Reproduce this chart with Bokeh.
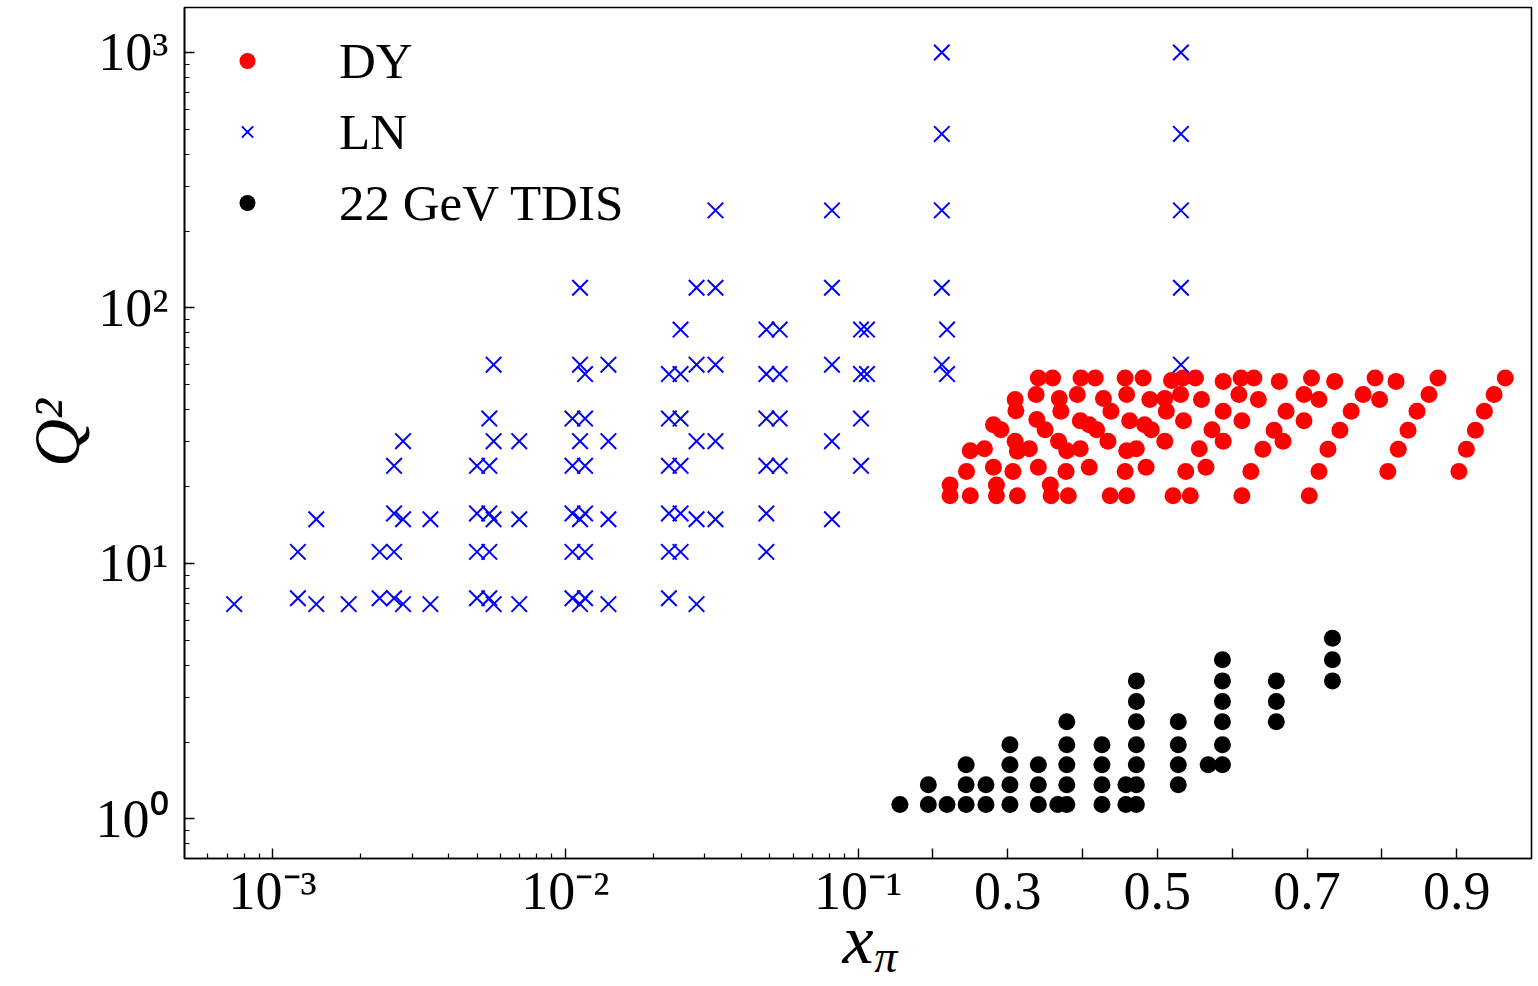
import math
from bokeh.plotting import figure
from bokeh.models import (Range1d, FixedTicker, CustomJSTickFormatter, CustomJSTransform,
                          LinearAxis, ColumnDataSource)
from bokeh.transform import transform
from bokeh.embed import file_html
from bokeh.resources import INLINE

# ---------------- data ----------------
dy_x = [0.341, 0.360, 0.398, 0.417, 0.457, 0.481, 0.519, 0.534, 0.551, 0.588,
        0.612, 0.629, 0.663, 0.706, 0.737, 0.791, 0.819, 0.875, 0.965,
        0.310, 0.338, 0.369, 0.393, 0.428, 0.459, 0.490, 0.510, 0.531, 0.559,
        0.609, 0.635, 0.696, 0.716, 0.775, 0.797, 0.863, 0.950,
        0.311, 0.371, 0.438, 0.512, 0.588, 0.672, 0.759, 0.847, 0.937,
        0.339, 0.397, 0.463, 0.535, 0.613, 0.696,
        0.281, 0.291, 0.350, 0.409, 0.419, 0.483, 0.492, 0.573, 0.656, 0.744, 0.835, 0.925,
        0.310, 0.368, 0.434, 0.510, 0.588, 0.668,
        0.250, 0.269, 0.313, 0.329, 0.379, 0.397, 0.459, 0.472, 0.556, 0.641, 0.728, 0.822, 0.913,
        0.245, 0.281, 0.307, 0.341, 0.378, 0.409, 0.457, 0.485, 0.538, 0.565,
        0.625, 0.716, 0.808, 0.903,
        0.223, 0.285, 0.357,
        0.223, 0.250, 0.285, 0.313, 0.358, 0.381, 0.437, 0.459, 0.521, 0.544, 0.613, 0.703]
dy_q2 = [53.2, 53.2, 53.2, 53.2, 53.2, 53.2, 52.0, 53.2, 53.2, 51.6,
         53.2, 53.2, 51.6, 53.2, 51.6, 53.2, 51.6, 53.2, 53.2,
         43.8, 45.8, 44.2, 45.8, 44.2, 45.8, 43.8, 44.2, 45.8, 43.8,
         45.8, 43.8, 45.8, 43.8, 45.8, 43.8, 45.8, 45.8,
         39.6, 39.4, 39.4, 39.4, 39.4, 39.4, 39.4, 39.4, 39.4,
         36.6, 36.2, 36.2, 36.2, 36.2, 36.2,
         34.9, 33.4, 33.4, 34.9, 33.4, 34.9, 33.4, 33.4, 33.2, 33.2, 33.2, 33.2,
         30.1, 30.1, 30.1, 30.1, 30.1, 30.1,
         27.6, 28.1, 27.5, 28.1, 27.6, 28.1, 27.6, 28.1, 28.1, 28.0, 28.0, 28.0, 28.0,
         22.9, 23.8, 22.9, 23.8, 22.9, 23.8, 22.9, 23.8, 22.9, 23.8,
         22.9, 22.9, 22.9, 22.9,
         20.3, 20.3, 20.3,
         18.4, 18.4, 18.4, 18.4, 18.4, 18.4, 18.4, 18.4, 18.4, 18.4, 18.4, 18.4]

ln_x = [7.39e-4,
        1.22e-3, 1.22e-3,
        1.41e-3, 1.41e-3,
        1.82e-3,
        2.32e-3, 2.32e-3,
        2.60e-3, 2.60e-3, 2.60e-3, 2.60e-3,
        2.79e-3, 2.79e-3, 2.79e-3,
        3.46e-3, 3.46e-3,
        4.99e-3, 4.99e-3, 4.99e-3, 4.99e-3,
        5.50e-3, 5.50e-3, 5.50e-3, 5.50e-3, 5.50e-3,
        5.69e-3, 5.69e-3, 5.69e-3, 5.69e-3,
        6.96e-3, 6.96e-3, 6.96e-3,
        1.058e-2, 1.058e-2, 1.058e-2, 1.058e-2, 1.058e-2,
        1.123e-2, 1.123e-2, 1.123e-2, 1.123e-2, 1.123e-2,
        1.168e-2, 1.168e-2, 1.168e-2, 1.168e-2, 1.168e-2, 1.168e-2,
        1.404e-2, 1.404e-2, 1.404e-2, 1.404e-2,
        2.259e-2, 2.259e-2, 2.259e-2, 2.259e-2, 2.259e-2, 2.259e-2,
        2.476e-2, 2.476e-2, 2.476e-2, 2.476e-2, 2.476e-2, 2.476e-2,
        2.808e-2, 2.808e-2, 2.808e-2, 2.808e-2, 2.808e-2,
        3.259e-2, 3.259e-2, 3.259e-2, 3.259e-2, 3.259e-2,
        4.864e-2, 4.864e-2, 4.864e-2, 4.864e-2, 4.864e-2, 4.864e-2,
        5.399e-2, 5.399e-2, 5.399e-2, 5.399e-2,
        8.147e-2, 8.147e-2, 8.147e-2, 8.147e-2, 8.147e-2,
        0.104, 0.104, 0.104, 0.104,
        0.112, 0.112,
        0.212, 0.212, 0.212, 0.212, 0.212,
        0.219, 0.219,
        0.5315, 0.5315, 0.5315, 0.5315, 0.5315]
ln_q2 = [6.93,
         11.1, 7.31,
         14.9, 6.93,
         6.93,
         11.1, 7.31,
         24.1, 15.7, 11.1, 7.31,
         30.1, 14.9, 6.93,
         14.9, 6.93,
         24.1, 15.7, 11.1, 7.31,
         36.9, 24.1, 15.7, 11.1, 7.31,
         60.0, 30.1, 14.9, 6.93,
         30.1, 14.9, 6.93,
         36.9, 24.1, 15.7, 11.1, 7.31,
         120.0, 60.0, 30.1, 14.9, 6.93,
         55.1, 36.9, 24.1, 15.7, 11.1, 7.31,
         60.0, 30.1, 14.9, 6.93,
         55.1, 36.9, 24.1, 15.7, 11.1, 7.31,
         82.3, 55.1, 36.9, 24.1, 15.7, 11.1,
         120.0, 60.0, 30.1, 14.9, 6.93,
         241.0, 120.0, 60.0, 30.1, 14.9,
         82.3, 55.1, 36.9, 24.1, 15.7, 11.1,
         82.3, 55.1, 36.9, 24.1,
         241.0, 120.0, 60.0, 30.1, 14.9,
         82.3, 55.1, 36.9, 24.1,
         82.3, 55.1,
         1000.0, 480.0, 241.0, 120.0, 60.0,
         82.3, 55.1,
         1000.0, 480.0, 241.0, 120.0, 60.0]

tdis_x = [0.156,
          0.194, 0.194,
          0.219,
          0.2445, 0.2445, 0.2445,
          0.271, 0.271,
          0.303, 0.303, 0.303, 0.303,
          0.341, 0.341, 0.341,
          0.367,
          0.379, 0.379, 0.379, 0.379, 0.379,
          0.426, 0.426, 0.426, 0.426,
          0.458, 0.458,
          0.472, 0.472, 0.472, 0.472, 0.472, 0.472, 0.472,
          0.528, 0.528, 0.528, 0.528,
          0.568,
          0.587, 0.587, 0.587, 0.587, 0.587, 0.587,
          0.659, 0.659, 0.659,
          0.734, 0.734, 0.734]
tdis_q2 = [1.14,
           1.14, 1.36,
           1.14,
           1.14, 1.36, 1.63,
           1.14, 1.36,
           1.14, 1.36, 1.63, 1.95,
           1.14, 1.36, 1.63,
           1.14,
           1.14, 1.36, 1.63, 1.95, 2.40,
           1.14, 1.36, 1.63, 1.95,
           1.14, 1.36,
           1.14, 1.36, 1.63, 1.95, 2.40, 2.88, 3.47,
           1.36, 1.63, 1.95, 2.40,
           1.63,
           1.63, 1.95, 2.40, 2.88, 3.47, 4.20,
           2.40, 2.88, 3.47,
           3.47, 4.20, 5.10]

series_names = ["DY", "LN", "22 GeV TDIS"]

x_major_vals = [1e-3, 1e-2, 0.1, 0.2, 0.3, 0.4, 0.5, 0.6, 0.7, 0.8, 0.9]
x_major_labels = ["10\u207b\u00b3", "10\u207b\u00b2", "10\u207b\u00b9", "", "0.3", "", "0.5", "", "0.7", "", "0.9"]
x_minor_vals = [6e-4, 7e-4, 8e-4, 9e-4,
                2e-3, 3e-3, 4e-3, 5e-3, 6e-3, 7e-3, 8e-3, 9e-3,
                2e-2, 3e-2, 4e-2, 5e-2, 6e-2, 7e-2, 8e-2, 9e-2]
y_major_vals = [1, 10, 100, 1000]
y_major_labels = ["10\u2070", "10\u00b9", "10\u00b2", "10\u00b3"]
y_minor_vals = [0.8, 0.9, 2, 3, 4, 5, 6, 7, 8, 9, 20, 30, 40, 50, 60, 70, 80, 90,
                200, 300, 400, 500, 600, 700, 800, 900]

x_title_main = "x"          # x-axis title: x with subscript pi
x_title_sub = "\u03c0"
x_title_sub_at = 0.137      # where the subscript sits along the x axis
y_title = "Q\u00b2"

X_MIN, X_BREAK, X_MAX = 5e-4, 0.1, 1.0   # log below the break, linear above
Y_MIN, Y_MAX = 0.7, 1500


def hybrid(v):
    if v <= X_BREAK:
        return (math.log10(v) - math.log10(X_MIN)) / (math.log10(X_BREAK) - math.log10(X_MIN))
    return 1.0 + (v - X_BREAK) / (X_MAX - X_BREAK)


xt = CustomJSTransform(
    args=dict(lmin=math.log10(X_MIN), lbrk=math.log10(X_BREAK), brk=X_BREAK, xmax=X_MAX),
    func="""
        return x <= brk ? (Math.log10(x) - lmin) / (lbrk - lmin) : 1 + (x - brk) / (xmax - brk);
    """,
    v_func="""
        const out = new Float64Array(xs.length);
        for (let i = 0; i < xs.length; i++) {
            const x = xs[i];
            out[i] = x <= brk ? (Math.log10(x) - lmin) / (lbrk - lmin) : 1 + (x - brk) / (xmax - brk);
        }
        return out;
    """)

FONT = "Liberation Serif"

p = figure(width=1538, height=986, output_backend="svg", toolbar_location=None,
           x_range=Range1d(hybrid(X_MIN), hybrid(X_MAX)), y_range=Range1d(Y_MIN, Y_MAX),
           y_axis_type="log",
           min_border_left=184, min_border_right=7, min_border_top=7, min_border_bottom=128)
p.xgrid.visible = False
p.ygrid.visible = False
p.background_fill_color = "white"
p.border_fill_color = "white"
p.outline_line_color = "black"
p.outline_line_width = 1.6
p.outline_line_alpha = 1.0

src_dy = ColumnDataSource(dict(x=dy_x, q2=dy_q2))
src_ln = ColumnDataSource(dict(x=ln_x, q2=ln_q2))
src_td = ColumnDataSource(dict(x=tdis_x, q2=tdis_q2))

p.scatter(x=transform("x", xt), y="q2", source=src_dy, marker="circle", size=17,
          fill_color="#ff0000", line_color=None, legend_label=series_names[0])
p.scatter(x=transform("x", xt), y="q2", source=src_ln, marker="x", size=22,
          line_color="#0000ff", line_width=2, legend_label=series_names[1])
p.scatter(x=transform("x", xt), y="q2", source=src_td, marker="circle", size=17,
          fill_color="black", line_color=None, legend_label=series_names[2])

fmt_code = """
for (let i = 0; i < pos.length; i++) {
    if (Math.abs(tick - pos[i]) < 1e-6 * Math.max(1, Math.abs(pos[i]))) return labs[i];
}
return "";
"""

xa = p.xaxis[0]
x_pos = [hybrid(v) for v in x_major_vals]
xa.ticker = FixedTicker(ticks=x_pos, minor_ticks=[hybrid(v) for v in x_minor_vals])
xa.formatter = CustomJSTickFormatter(args=dict(pos=x_pos, labs=x_major_labels), code=fmt_code)

ya = p.yaxis[0]
ya.ticker = FixedTicker(ticks=y_major_vals, minor_ticks=y_minor_vals)
ya.formatter = CustomJSTickFormatter(args=dict(pos=y_major_vals, labs=y_major_labels), code=fmt_code)

for ax in (xa, ya):
    ax.major_tick_in = 10
    ax.major_tick_out = 0
    ax.minor_tick_in = 5
    ax.minor_tick_out = 0
    ax.axis_line_width = 1.6
    ax.major_tick_line_width = 1.4
    ax.minor_tick_line_width = 1.2
    ax.axis_line_color = "black"
    ax.major_tick_line_color = "black"
    ax.minor_tick_line_color = "black"
    ax.major_label_text_font = FONT
    ax.major_label_text_font_size = "54px"
    ax.major_label_text_color = "black"

xa.major_label_standoff = 2
ya.major_label_standoff = 16

# y title
ya.axis_label = y_title
ya.axis_label_text_font = FONT
ya.axis_label_text_font_style = "italic"
ya.axis_label_text_font_size = "66px"
ya.axis_label_text_color = "black"
ya.axis_label_standoff = 0

# x title: main letter as the axis label (pulled up a little)
xa.axis_label = x_title_main
xa.axis_label_text_font = FONT
xa.axis_label_text_font_style = "italic"
xa.axis_label_text_font_size = "70px"
xa.axis_label_text_color = "black"
xa.axis_label_standoff = -23

# subscript: a bare extra axis whose only tick label is the subscript
sub_pos = [hybrid(x_title_sub_at)]
xa2 = LinearAxis(ticker=FixedTicker(ticks=sub_pos, minor_ticks=[]),
                 formatter=CustomJSTickFormatter(args=dict(pos=sub_pos, labs=[x_title_sub]), code=fmt_code),
                 axis_line_color=None, major_tick_line_color=None, minor_tick_line_color=None,
                 major_tick_in=0, major_tick_out=0, minor_tick_in=0, minor_tick_out=0,
                 major_label_standoff=-50, major_label_text_font=FONT,
                 major_label_text_font_style="italic", major_label_text_font_size="46px",
                 major_label_text_color="black")
p.add_layout(xa2, "below")

lg = p.legend[0]
lg.location = (43, 620)
lg.margin = 0
lg.padding = 0
lg.spacing = 0
lg.glyph_width = 40
lg.glyph_height = 71
lg.label_standoff = 72
lg.border_line_color = None
lg.background_fill_alpha = 0
lg.label_text_font = FONT
lg.label_text_font_size = "51px"
lg.label_text_color = "black"

open("out.html", "w").write(file_html(p, INLINE))
